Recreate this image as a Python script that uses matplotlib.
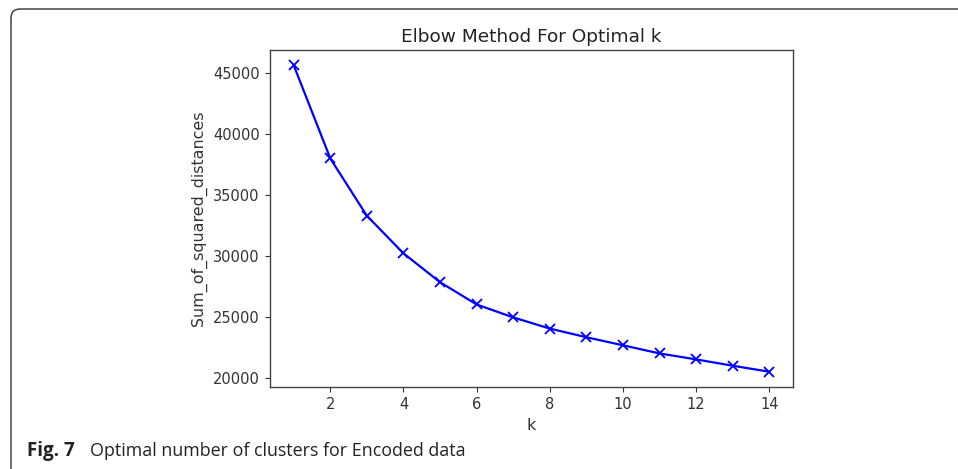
import matplotlib
matplotlib.use("Agg")
import matplotlib.pyplot as plt
from matplotlib.patches import FancyBboxPatch
from matplotlib.transforms import IdentityTransform

plt.rcParams['font.family'] = ['DejaVu Sans']

# number of clusters vs sum of squared distances
k_values = [1, 2, 3, 4, 5, 6, 7, 8, 9, 10, 11, 12, 13, 14]
ssd = [45650, 38000, 33290, 30210, 27840, 26010, 24950,
       24030, 23320, 22660, 21990, 21500, 20980, 20490]

x_ticks = [2, 4, 6, 8, 10, 12, 14]
y_ticks = [20000, 25000, 30000, 35000, 40000, 45000]

fig = plt.figure(figsize=(9.58, 4.69), dpi=100)
ax = fig.add_axes([0.2818, 0.1748, 0.546, 0.7186])

ax.plot(k_values, ssd, 'bx-', linewidth=1.6, markersize=7.5, markeredgewidth=1.3)

ax.set_xticks(x_ticks)
ax.set_yticks(y_ticks)
ax.tick_params(labelsize=10.5, colors='#333333', length=3.8)
for s in ax.spines.values():
    s.set_color('#444444')
    s.set_linewidth(1.0)

ax.set_xlabel('k', fontsize=11.4, color='#333333')
ax.set_ylabel('Sum_of_squared_distances', fontsize=11.4, color='#333333')
ax.set_title('Elbow Method For Optimal k', fontsize=13.3, color='#222222')

# page frame around the figure (cut off at right and bottom)
frame = FancyBboxPatch((11, -30), 1000, 469 - 9 + 30,
                       boxstyle='round,pad=0,rounding_size=9',
                       transform=IdentityTransform(), fill=False,
                       edgecolor='#333333', linewidth=1.0)
fig.patches.append(frame)

# caption
cap_y = 1 - 451 / 469
fig.text(27 / 958, cap_y, 'Fig. 7', fontsize=13.5, fontweight='bold',
         family='Open Sans', va='center', ha='left', color='#222222')
fig.text(90 / 958, cap_y, 'Optimal number of clusters for Encoded data',
         fontsize=12.9, family='Open Sans', va='center', ha='left', color='#222222')

fig.savefig('out.png', dpi=100)
